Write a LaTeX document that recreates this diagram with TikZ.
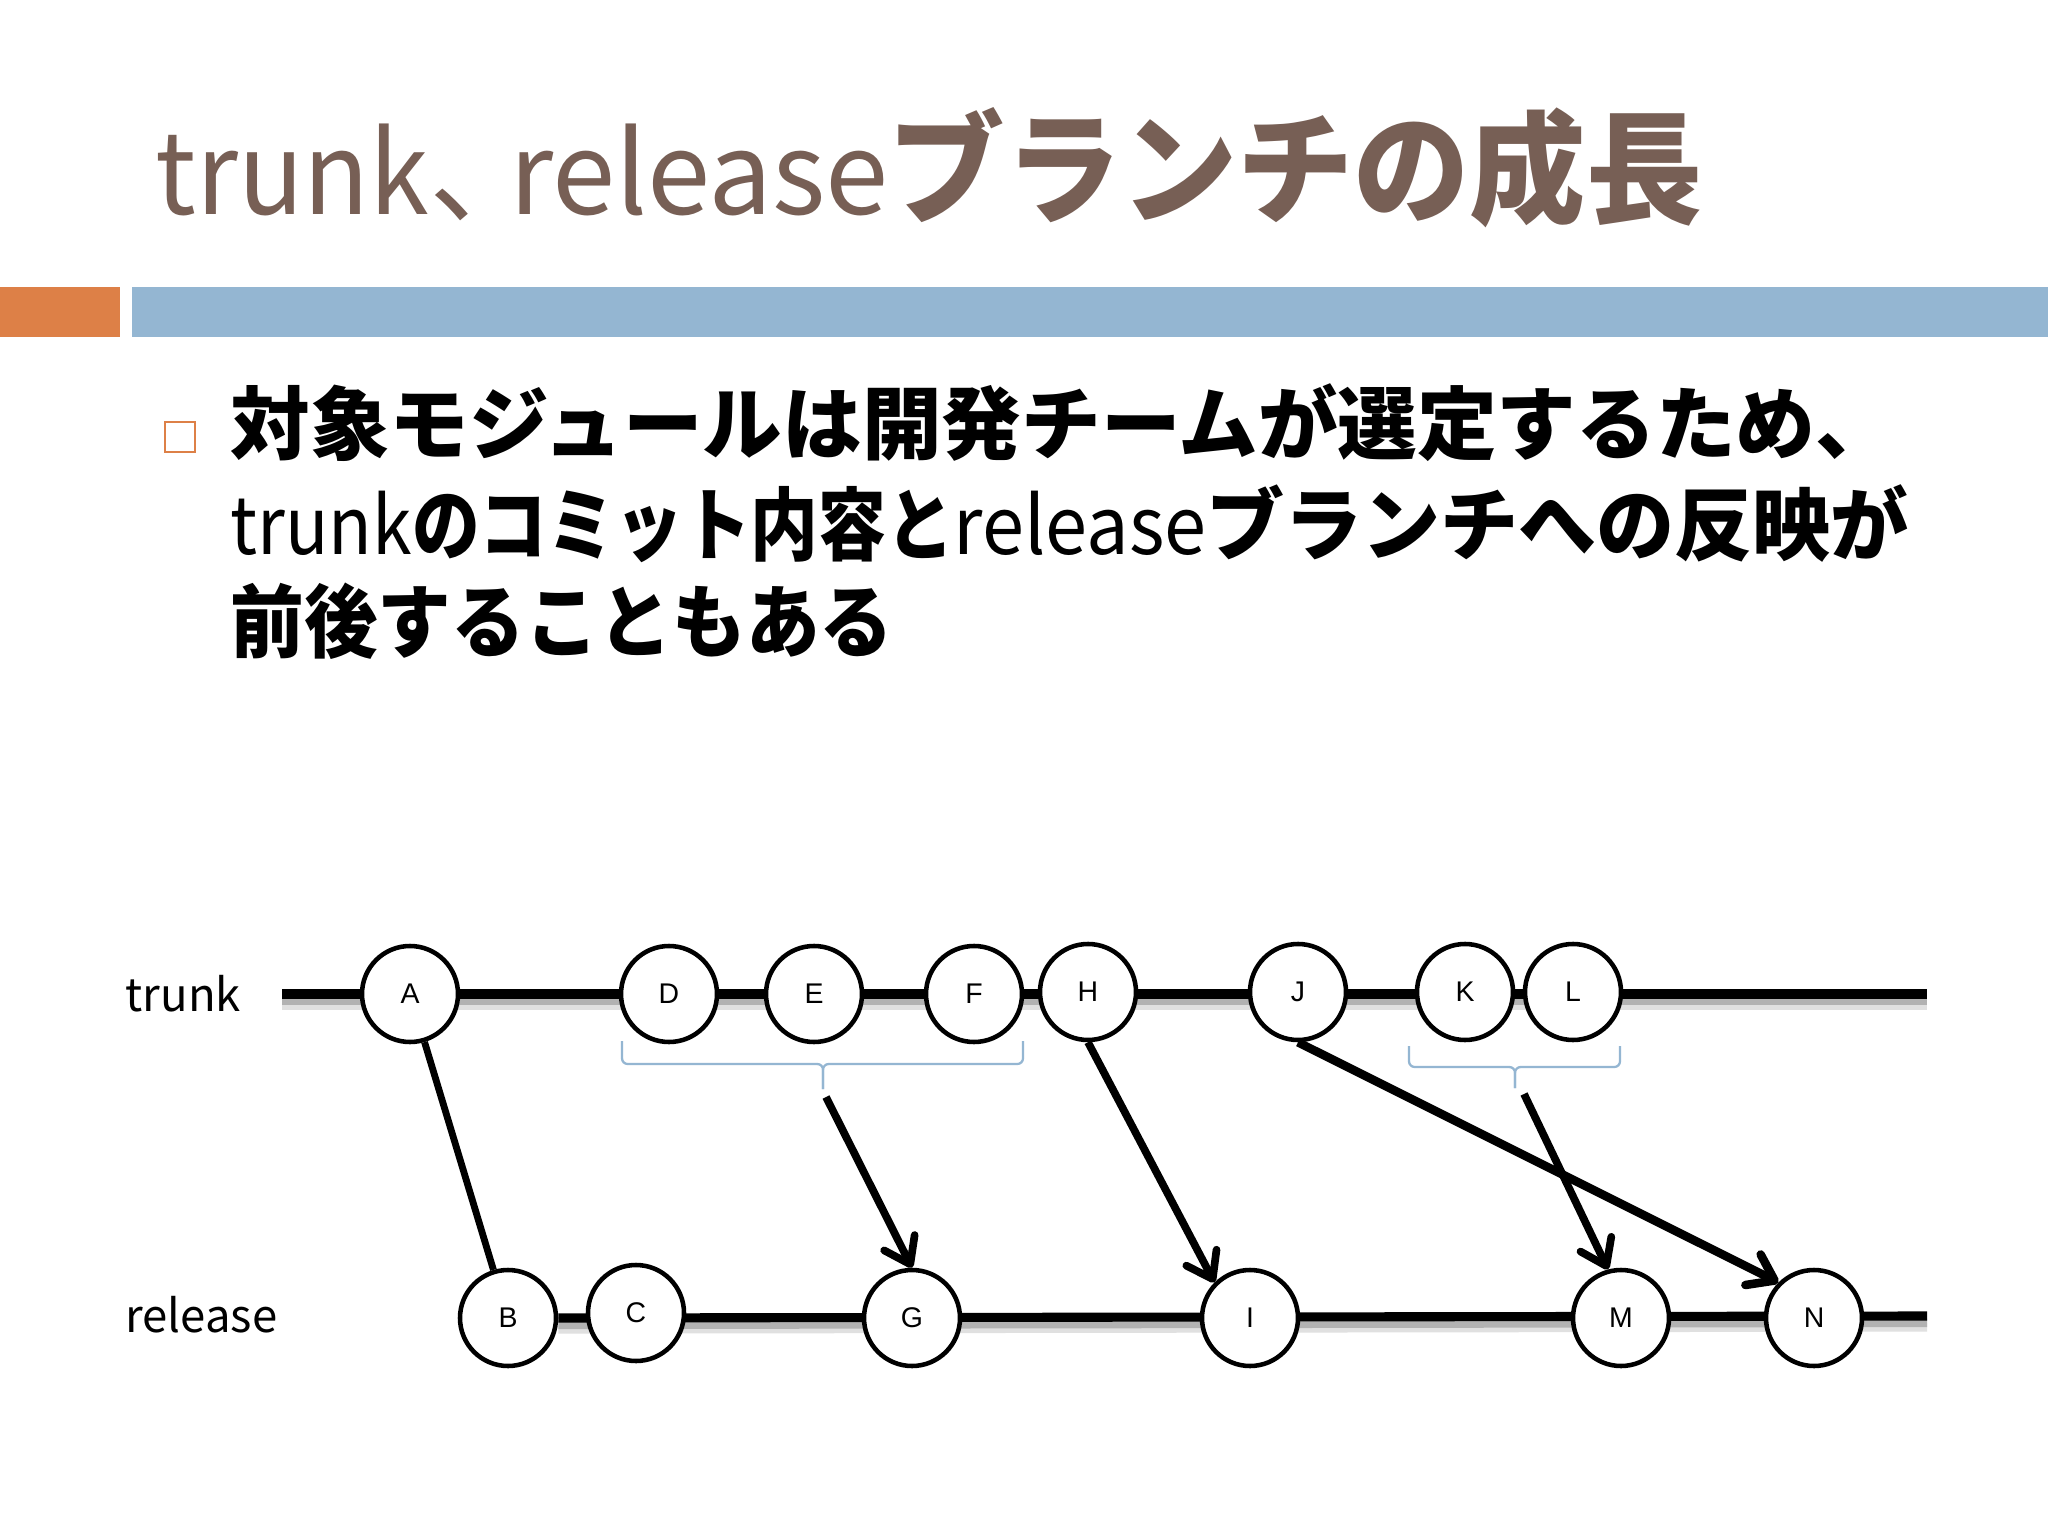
\documentclass[tikz,border=0pt]{standalone}
\usepackage{fontspec}
\usepackage{graphicx}
\setmainfont{Noto Sans CJK JP}
\newfontfamily\arialfont{Liberation Sans}
\usetikzlibrary{arrows.meta,backgrounds}
\definecolor{titlebrown}{HTML}{775F55}
\definecolor{accorange}{HTML}{DD8047}
\definecolor{accblue}{HTML}{94B6D2}
\begin{document}
\begin{tikzpicture}[x=0.3515625pt,y=-0.3515625pt,
  commit/.style={circle, draw=black, line width=1.6pt, fill=white, minimum size=33.75pt, inner sep=0pt, font=\arialfont\fontsize{10}{12}\selectfont},
  branchline/.style={line width=3.2pt, black},
  shadowline/.style={line width=3pt, black!30},
  shadowlight/.style={line width=3pt, black!12},
  link/.style={line width=2.7pt, black},
  arr/.style={link, -{Straight Barb[length=8.5pt,width=12pt,round]}},
  bracket/.style={draw=accblue, line width=0.8pt, rounded corners=2pt},
  bodytext/.style={anchor=base west, inner sep=0pt, font=\fontsize{28}{34}\selectfont\bfseries},
  lbl/.style={anchor=base west, inner sep=0pt, font=\fontsize{16}{20}\selectfont}
]
\useasboundingbox (0,0) rectangle (2048,1536);
\begin{scope}[on background layer]
  \fill[white] (0,0) rectangle (2048,1536);
\end{scope}

% title
\node[anchor=base west, inner sep=0pt, text=titlebrown, font=\fontsize{40}{48}\selectfont] (title) at (155,215) {\scalebox{0.95}[1]{trunk}、\kern-0.3em release\scalebox{0.95}[1]{\fontsize{43}{48}\selectfont\bfseries ブランチの成長}};

% bars
\fill[accorange] (0,287) rectangle (120,337);
\fill[accblue] (132,287) rectangle (2048,337);

% bullet
\draw[accorange, line width=1pt, fill=white] (165,422) rectangle (195,452);
\node[bodytext] (l1) at (230,454) {対象モジュールは開発チームが選定するため、};
\node[bodytext] (l2) at (230,555) {\scalebox{0.9}[1]{\mdseries trunk}\scalebox{0.85}[1]{のコミット内容と}\scalebox{0.95}[1]{\mdseries release}\scalebox{0.98}[1]{ブランチへの反映が}};
\node[bodytext] (l3) at (230,652) {\scalebox{0.925}[1]{前後することもある}};

% branch labels
\node[lbl] (ltrunk) at (125,1011) {trunk};
\node[lbl] (lrelease) at (125,1332) {release};

% commits
\node[commit] (A) at (410,994) {A};
\node[commit] (D) at (669,994) {D};
\node[commit] (E) at (814,994) {E};
\node[commit] (F) at (974,994) {F};
\node[commit] (H) at (1088,992) {H};
\node[commit] (J) at (1298,992) {J};
\node[commit] (K) at (1465,992) {K};
\node[commit] (L) at (1573,992) {L};
\node[commit] (B) at (508,1318) {B};
\node[commit] (C) at (636,1313) {C};
\node[commit] (G) at (912,1318) {G};
\node[commit] (I) at (1250,1318) {I};
\node[commit] (M) at (1621,1318) {M};
\node[commit] (N) at (1814,1318) {N};

\coordinate (ts) at (282,994);
\coordinate (te) at (1927,994);
\coordinate (re) at (1927,1316);
\coordinate (b1) at (826,1097);
\coordinate (b2) at (1524,1094);

\begin{scope}[on background layer]
  \draw[shadowlight] ([yshift=-4pt]ts) -- ([yshift=-4pt]te);
  \draw[shadowline] ([yshift=-2.4pt]ts) -- ([yshift=-2.4pt]te);
  \draw[shadowlight] ([yshift=-4pt]B.east) -- ([yshift=-4pt]re);
  \draw[shadowline] ([yshift=-2.4pt]B.east) -- ([yshift=-2.4pt]re);
  \draw[branchline] (ts) -- (te);
  \draw[branchline] (B.east) -- (re);
\end{scope}

% braces
\draw[bracket] (622,1041) -- (622,1064) -- (823,1064) -- (823,1089);
\draw[bracket] (1023,1041) -- (1023,1064) -- (823,1064) -- (823,1089);
\draw[bracket] (1409,1046) -- (1409,1067) -- (1515,1067) -- (1515,1088);
\draw[bracket] (1620,1046) -- (1620,1067) -- (1515,1067) -- (1515,1088);

% connectors
\draw[link, line width=2.4pt] (A) -- (B);
\draw[arr] (b1) -- (G.north);
\draw[arr] (H.south) -- (I.north west);
\draw[arr] (b2) -- (M.105);
\draw[arr, line width=3pt] (J.south) -- (N.north west);
\end{tikzpicture}
\end{document}
